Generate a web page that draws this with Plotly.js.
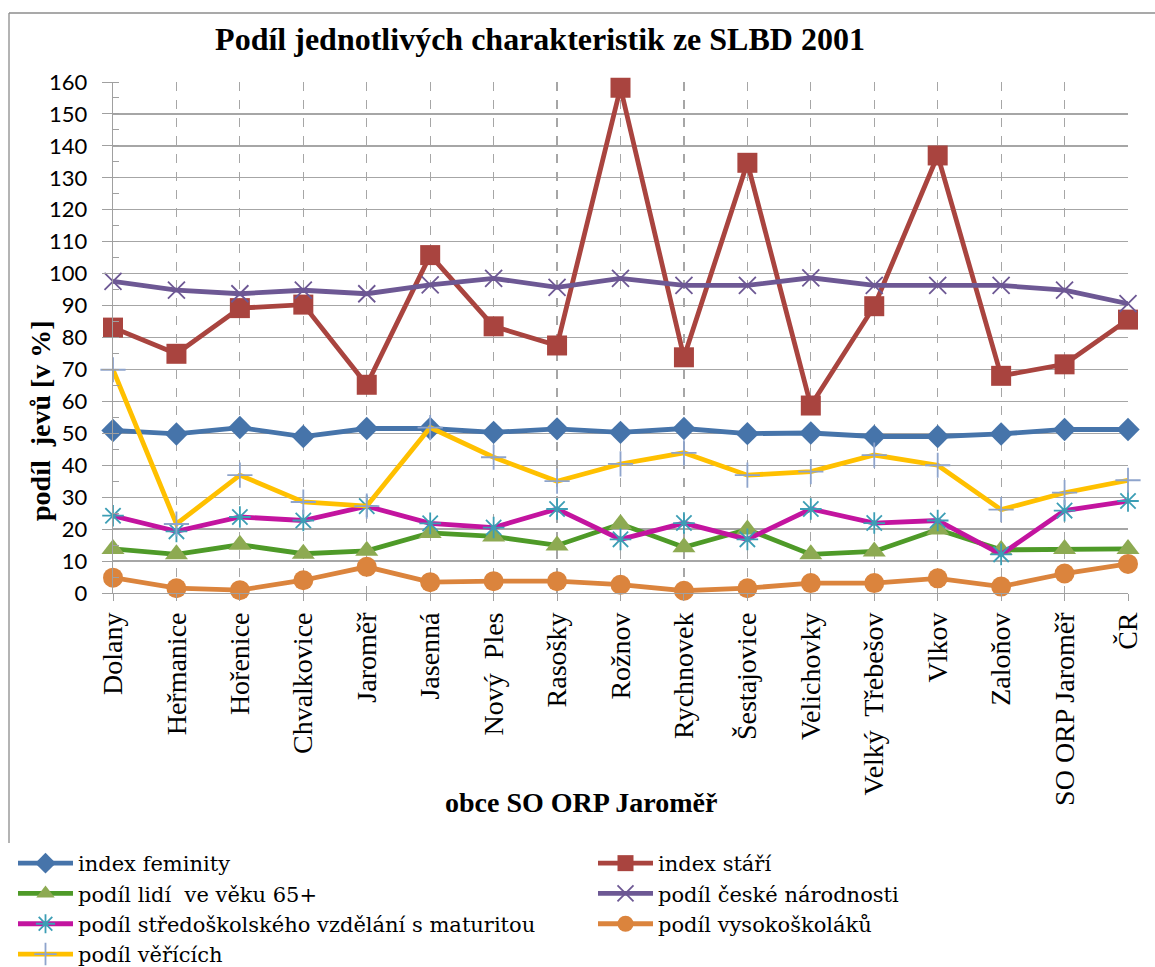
<!DOCTYPE html>
<html>
<head>
<meta charset="utf-8">
<script src="https://cdn.plot.ly/plotly-3.0.1.min.js"></script>
<style>html,body{margin:0;padding:0;background:#fff;}#chart{width:1155px;height:967px;}</style>
</head>
<body>
<div id="chart"></div>
<script>
const categories = ["Dolany","Heřmanice","Hořenice","Chvalkovice","Jaroměř","Jasenná","Nový  Ples","Rasošky","Rožnov","Rychnovek","Šestajovice","Velichovky","Velký  Třebešov","Vlkov","Zaloňov","SO ORP Jaroměř","ČR"];
const indexFeminity = [50.9,49.8,51.8,49.0,51.5,51.5,50.3,51.4,50.3,51.5,49.9,50.1,49.0,49.0,49.8,51.2,51.2];
const indexStari = [83.1,74.9,89.2,90.3,65.2,105.8,83.5,77.5,158.2,73.8,134.7,58.7,89.8,137.0,68.0,71.6,85.6];
const podil65 = [13.8,12.1,15.1,12.3,13.2,18.8,17.7,14.9,21.6,14.3,19.9,12.1,13.0,19.9,13.5,13.8,13.8];
const podilCeske = [97.6,94.8,93.7,94.8,93.7,96.5,98.5,95.7,98.5,96.3,96.3,98.7,96.3,96.3,96.3,94.8,90.6];
const podilSS = [24.2,19.3,23.8,22.7,27.2,21.8,20.5,26.3,16.8,21.9,16.8,26.3,21.9,22.7,12.1,25.8,28.8];
const podilVS = [4.8,1.5,0.9,4.0,8.2,3.4,3.7,3.7,2.6,0.7,1.5,3.1,3.1,4.6,2.0,6.1,9.1];
const podilVerici = [69.9,21.6,36.9,28.5,27.2,51.8,42.5,35.0,40.4,43.9,36.9,38.0,43.2,40.0,26.1,31.4,35.3];
const seriesNames = ["index feminity","index stáří","podíl lidí  ve věku 65+","podíl české národnosti","podíl středoškolského vzdělání s maturitou","podíl vysokoškoláků","podíl věřících"];

const xi = categories.map((_, i) => i);
function tr(name, y, lineColor, symbol, mColor, mSize, mLineW, legendId) {
  return {
    type: 'scatter', mode: 'lines+markers', name: name, x: xi, y: y,
    cliponaxis: false, legend: legendId,
    line: {color: lineColor, width: 4.8},
    marker: {symbol: symbol, color: mColor, size: mSize,
             line: {width: mLineW, color: mColor}}
  };
}
const data = [
  tr(seriesNames[0], indexFeminity, '#4674AA', 'diamond', '#4674AA', 18, 0, 'legend'),
  tr(seriesNames[1], indexStari, '#A9443F', 'square', '#A9443F', 20, 0, 'legend2'),
  tr(seriesNames[2], podil65, '#4E9A28', 'triangle-up', '#8DAA52', 20, 0, 'legend'),
  tr(seriesNames[3], podilCeske, '#6D5894', 'x-thin-open', '#6D5894', 17, 1.8, 'legend2'),
  tr(seriesNames[4], podilSS, '#C3149F', 'asterisk-open', '#3C9EB5', 18, 1.8, 'legend'),
  tr(seriesNames[5], podilVS, '#DB843D', 'circle', '#DB843D', 20, 0, 'legend2'),
  tr(seriesNames[6], podilVerici, '#FFC000', 'cross-thin-open', '#8EA4CC', 18, 1.8, 'legend')
];

const serif = "'Liberation Serif', 'Times New Roman', serif";
const legendCommon = {
  orientation: 'v', xref: 'container', yref: 'container', y: 1 - 843/967,
  xanchor: 'left', yanchor: 'top', bgcolor: 'rgba(0,0,0,0)',
  font: {family: "'DejaVu Serif', serif", size: 21, color: '#000'}, itemwidth: 55, tracegroupgap: 0,
  traceorder: 'normal'
};
const layout = {
  width: 1155, height: 967,
  margin: {l: 113, r: 27, t: 82, b: 374, autoexpand: false},
  paper_bgcolor: '#fff', plot_bgcolor: '#fff',
  showlegend: true,
  title: {text: 'Podíl jednotlivých charakteristik ze SLBD 2001', font: {family: serif, size: 32, color: '#000', weight: 'bold'},
          xref: 'container', yref: 'container', x: 540/1155, xanchor: 'center', y: 1 - 39/967, yanchor: 'middle', automargin: false},
  xaxis: {
    range: [0, 16], tickmode: 'array', tickvals: xi, ticktext: categories,
    tickangle: -90, tickfont: {family: serif, size: 28, color: '#000'},
    showgrid: true, gridcolor: '#A6A6A6', griddash: 'dash', gridwidth: 1.2,
    showline: true, linecolor: '#A0A0A0', linewidth: 1.3, automargin: false,
    ticks: 'outside', ticklen: 7, tickcolor: '#A0A0A0', zeroline: false, fixedrange: true
  },
  yaxis: {
    range: [0, 160], dtick: 10, tick0: 0,
    tickfont: {family: 'Lato, sans-serif', size: 22, color: '#000'},
    showgrid: true, gridcolor: '#A6A6A6', gridwidth: 1.3,
    showline: true, linecolor: '#A0A0A0', linewidth: 1.3, automargin: false,
    ticks: 'outside', ticklen: 10, tickcolor: '#A0A0A0', ticklabelstandoff: 10,
    minor: {dtick: 5, ticks: 'inside', ticklen: 6, tickcolor: '#A0A0A0', showgrid: false},
    zeroline: false, fixedrange: true
  },
  legend: Object.assign({}, legendCommon, {x: 13/1155}),
  legend2: Object.assign({}, legendCommon, {x: 593/1155}),
  shapes: [
    {type: 'line', xref: 'paper', yref: 'paper', x0: (9 - 113) / 1015, x1: (9 - 113) / 1015, y0: (593 - 843) / 511, y1: (593 - 13) / 511,
     line: {color: '#8C8C8C', width: 1.3}, layer: 'below'},
    {type: 'line', xref: 'paper', yref: 'paper', x0: (9 - 113) / 1015, x1: (1160 - 113) / 1015, y0: (593 - 13) / 511, y1: (593 - 13) / 511,
     line: {color: '#8C8C8C', width: 1.3}, layer: 'below'}
  ],
  annotations: [
    {text: '<b>podíl  jevů [v %]</b>', xref: 'paper', yref: 'paper', x: (40 - 113) / 1015, y: (593 - 421) / 511,
     xanchor: 'center', yanchor: 'middle', textangle: -90, showarrow: false, font: {family: serif, size: 28, color: '#000'}},
    {text: '<b>obce SO ORP Jaroměř</b>', xref: 'paper', yref: 'paper', x: (581 - 113) / 1015, y: (593 - 802) / 511,
     xanchor: 'center', yanchor: 'middle', showarrow: false, font: {family: serif, size: 28, color: '#000'}}
  ]
};
Plotly.newPlot('chart', data, layout, {displayModeBar: false, staticPlot: true});
</script>
</body>
</html>
